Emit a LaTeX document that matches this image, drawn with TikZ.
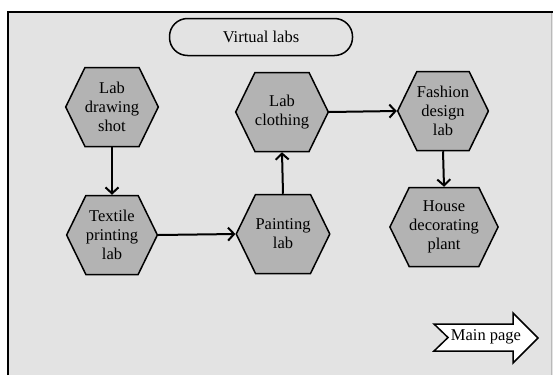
\documentclass[tikz,border=0pt]{standalone}
\usepackage{fontspec}
\setmainfont{Liberation Serif}
\usetikzlibrary{shapes.symbols,arrows.meta}
\definecolor{panelgray}{RGB}{227,227,227}
\definecolor{hexgray}{RGB}{179,179,179}
\begin{document}
\begin{tikzpicture}[x=1pt,y=-1pt,
  every node/.style={font=\fontsize{16.5}{19}\selectfont},
  lab/.style={signal, signal to=east and west, signal pointer angle=128,
    draw=black, line width=1.5pt, fill=hexgray, minimum width=89pt,
    minimum height=79pt, inner sep=0pt, align=center},
  link/.style={line width=2pt, -{Straight Barb[length=6pt,width=13pt,line width=2pt]}},
  title/.style={draw=black, line width=1.5pt, rounded corners=18pt,
    minimum width=183pt, minimum height=37pt, inner sep=0pt},
]
\useasboundingbox (0,0) rectangle (553,375);
% panel
\fill[panelgray] (8,12) rectangle (553,375);
\draw[gray!55, line width=0.6pt] (551,12) -- (551,375);
\draw[line width=1.8pt] (8,375) -- (8,12) -- (553,12);

% title
\node[title] (vl) at (261,37) {Virtual labs};

% labs
\node[lab] (draw) at (112,107) {Lab\\drawing\\shot};
\node[lab] (text) at (112,235) {Textile\\printing\\lab};
\node[lab] (paint) at (283,234) {Painting\\lab};
\node[lab] (cloth) at (282,112) {Lab\\clothing};
\node[lab] (fash) at (443,111) {Fashion\\design\\lab};
\node[lab] (house) at (444,227) {House\\decorating\\plant};

% flow
\draw[link] (draw.south) -- (text.north);
\draw[link] (text.east) -- (paint.west);
\draw[link] (paint.north) -- (cloth.south);
\draw[link] (cloth.east) -- (fash.west);
\draw[link] (fash.south) -- (house.north);

% main page button
\draw[line width=1.5pt, fill=white] (434,324) -- (513,324) -- (513,313)
  -- (538,338) -- (513,363) -- (513,351) -- (434,351) -- (448,337.5) -- cycle;
\node[inner sep=0pt] (main) at (486,337) {Main page};
\end{tikzpicture}
\end{document}
